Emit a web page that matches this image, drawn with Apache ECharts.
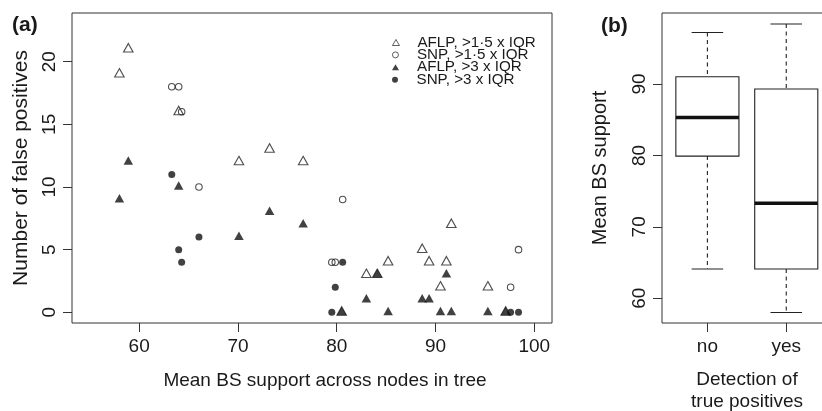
<!DOCTYPE html>
<html><head><meta charset="utf-8">
<script src="https://cdn.jsdelivr.net/npm/echarts@6/dist/echarts.min.js"></script>
<style>html,body{margin:0;padding:0;background:#fff}#c{width:822px;height:411px}</style>
</head><body><div id="c"></div>
<script>
// ---- data ----
const xTicks = [60, 70, 80, 90, 100];
const yTicks = [0, 5, 10, 15, 20];
const seriesNames = ['AFLP, >1\u00b75 x IQR', 'SNP, >1\u00b75 x IQR', 'AFLP, >3 x IQR', 'SNP, >3 x IQR'];
const legendIcons = ['triangle', 'circle', 'triangle', 'circle'];
const aflp15X = [58.9, 58.0, 64.0, 70.1, 73.2, 76.6, 91.6, 88.65, 85.2, 89.35, 91.1, 83.0, 90.5, 95.3, 84.1, 80.5, 97.1];
const aflp15Y = [21, 19, 16, 12, 13, 12, 7, 5, 4, 4, 4, 3, 2, 2, 3, 0, 0];
const aflp3X  = [58.9, 58.0, 64.0, 70.1, 73.2, 76.6, 91.6, 88.65, 85.2, 89.35, 91.1, 83.0, 90.5, 95.3, 84.1, 80.5, 97.1];
const aflp3Y  = [12, 9, 10, 6, 8, 7, 0, 1, 0, 1, 3, 1, 0, 0, 3, 0, 0];
const snp15X  = [63.3, 64.0, 64.3, 66.05, 80.6, 98.4, 79.5, 79.85, 97.6];
const snp15Y  = [18, 18, 16, 10, 9, 5, 4, 4, 2];
const snp3X   = [63.3, 64.0, 64.3, 66.05, 80.6, 98.4, 79.5, 79.85, 97.6];
const snp3Y   = [11, 5, 4, 6, 4, 0, 0, 2, 0];

const boxCategories = ['no', 'yes'];
const boxTicks = [60, 70, 80, 90];
const boxMin    = [64.1, 58.0];
const boxQ1     = [79.9, 64.1];
const boxMedian = [85.3, 73.3];
const boxQ3     = [91.0, 89.3];
const boxMax    = [97.2, 98.4];

// ---- chart ----
const FONT = '"Liberation Sans", Arial, Helvetica, sans-serif';
const INK = '#1a1a1a';
const pairs = (xs, ys) => xs.map((x, i) => [x, ys[i]]);
const chart = echarts.init(document.getElementById('c'), null, {renderer: 'canvas'});

const tickStyle = {show: true, inside: false, length: 9, lineStyle: {color: '#333', width: 1}};
const noLine = {show: false, onZero: false};

const legends = seriesNames.map((name, i) => ({
  orient: 'vertical', left: 392, top: 35 + 12.4 * i, padding: 0,
  itemWidth: 7, itemHeight: 6, selectedMode: false,
  textStyle: {fontFamily: FONT, fontSize: 15.2, color: INK, padding: [0, 0, 0, 13]},
  data: [i < 2 ? {name: name, icon: legendIcons[i], itemStyle: {borderWidth: 0.9}} : {name: name, icon: legendIcons[i]}]
}));

const option = {
  animation: false,
  backgroundColor: '#fff',
  textStyle: {fontFamily: FONT, color: INK},
  title: [
    {text: '(a)', left: 12, top: 15, padding: 0, textStyle: {fontFamily: FONT, fontSize: 21, fontWeight: 'bold', color: INK}},
    {text: '(b)', left: 601, top: 16, padding: 0, textStyle: {fontFamily: FONT, fontSize: 21, fontWeight: 'bold', color: INK}}
  ],
  legend: legends,
  grid: [
    {left: 72, top: 13, width: 480, height: 310, outerBoundsMode: 'none', containLabel: false,
      show: true, borderColor: '#333', borderWidth: 1, backgroundColor: 'transparent'},
    {left: 662, top: 13, width: 170, height: 310, outerBoundsMode: 'none', containLabel: false,
      show: true, borderColor: '#333', borderWidth: 1, backgroundColor: 'transparent'}
  ],
  xAxis: [
    {
      type: 'value', gridIndex: 0, min: 53.2, max: 101.79,
      axisLine: noLine, splitLine: {show: false},
      axisTick: Object.assign({customValues: xTicks}, tickStyle),
      axisLabel: {customValues: xTicks, margin: 14, fontSize: 19, fontFamily: FONT, color: INK},
      name: 'Mean BS support across nodes in tree', nameLocation: 'middle', nameGap: 48,
      nameTextStyle: {fontSize: 19, fontFamily: FONT, color: INK, padding: [0, 0, 0, 26]}
    },
    {
      type: 'value', gridIndex: 1, min: 0.4244, max: 2.58,
      axisLine: noLine, splitLine: {show: false},
      axisTick: Object.assign({customValues: [1, 2]}, tickStyle),
      axisLabel: {customValues: [1, 2], margin: 14, fontSize: 19, fontFamily: FONT, color: INK,
        formatter: v => boxCategories[Math.round(v) - 1] || ''},
      name: 'Detection of\ntrue positives', nameLocation: 'middle', nameGap: 46,
      nameTextStyle: {fontSize: 19, lineHeight: 22, fontFamily: FONT, color: INK}
    }
  ],
  yAxis: [
    {
      type: 'value', gridIndex: 0, min: -0.854, max: 23.887,
      axisLine: noLine, splitLine: {show: false},
      axisTick: Object.assign({customValues: yTicks}, tickStyle),
      axisLabel: {customValues: yTicks, rotate: 90, margin: 13, fontSize: 19, fontFamily: FONT, color: INK},
      name: 'Number of false positives', nameLocation: 'middle', nameRotate: 90, nameGap: 38,
      nameTextStyle: {fontSize: 21, fontFamily: FONT, color: INK}
    },
    {
      type: 'value', gridIndex: 1, min: 56.54, max: 99.93,
      axisLine: noLine, splitLine: {show: false},
      axisTick: Object.assign({customValues: boxTicks}, tickStyle),
      axisLabel: {customValues: boxTicks, rotate: 90, margin: 13, fontSize: 19, fontFamily: FONT, color: INK},
      name: 'Mean BS support', nameLocation: 'middle', nameRotate: 90, nameGap: 52,
      nameTextStyle: {fontSize: 20, fontFamily: FONT, color: INK}
    }
  ],
  series: [
    {name: seriesNames[0], type: 'scatter', xAxisIndex: 0, yAxisIndex: 0, data: pairs(aflp15X, aflp15Y),
      symbol: 'triangle', symbolSize: [9.5, 8.5], symbolOffset: [0, -1.4],
      itemStyle: {color: 'rgba(255,255,255,0)', borderColor: '#222', borderWidth: 1.1}},
    {name: seriesNames[1], type: 'scatter', xAxisIndex: 0, yAxisIndex: 0, data: pairs(snp15X, snp15Y),
      symbol: 'circle', symbolSize: 6.5,
      itemStyle: {color: 'rgba(255,255,255,0)', borderColor: '#222', borderWidth: 1.1}},
    {name: seriesNames[2], type: 'scatter', xAxisIndex: 0, yAxisIndex: 0, data: pairs(aflp3X, aflp3Y),
      symbol: 'triangle', symbolSize: [9.5, 8.5], symbolOffset: [0, -1.4],
      itemStyle: {color: '#111'}},
    {name: seriesNames[3], type: 'scatter', xAxisIndex: 0, yAxisIndex: 0, data: pairs(snp3X, snp3Y),
      symbol: 'circle', symbolSize: 7,
      itemStyle: {color: '#111'}},
    {
      name: 'box', type: 'custom', xAxisIndex: 1, yAxisIndex: 1,
      data: boxCategories.map((c, i) => [i + 1, boxMin[i], boxQ1[i], boxMedian[i], boxQ3[i], boxMax[i]]),
      encode: {x: 0, y: [1, 2, 3, 4, 5]},
      renderItem: function (params, api) {
        const x = api.value(0);
        const unit = api.size([1, 0])[0];
        const half = unit * 0.4, cap = unit * 0.2;
        const pMin = api.coord([x, api.value(1)]);
        const pQ1 = api.coord([x, api.value(2)]);
        const pMed = api.coord([x, api.value(3)]);
        const pQ3 = api.coord([x, api.value(4)]);
        const pMax = api.coord([x, api.value(5)]);
        const cx = pMed[0];
        const solid = {stroke: '#222', lineWidth: 1.1, fill: null};
        const dashed = {stroke: '#222', lineWidth: 1.1, lineDash: [4, 3.5], fill: null};
        return {
          type: 'group',
          children: [
            {type: 'line', shape: {x1: cx, y1: pMax[1], x2: cx, y2: pQ3[1]}, style: dashed},
            {type: 'line', shape: {x1: cx, y1: pQ1[1], x2: cx, y2: pMin[1]}, style: dashed},
            {type: 'line', shape: {x1: cx - cap, y1: pMax[1], x2: cx + cap, y2: pMax[1]}, style: solid},
            {type: 'line', shape: {x1: cx - cap, y1: pMin[1], x2: cx + cap, y2: pMin[1]}, style: solid},
            {type: 'rect', shape: {x: cx - half, y: pQ3[1], width: 2 * half, height: pQ1[1] - pQ3[1]},
              style: {stroke: '#222', lineWidth: 1.1, fill: '#fff'}},
            {type: 'line', shape: {x1: cx - half, y1: pMed[1], x2: cx + half, y2: pMed[1]},
              style: {stroke: '#111', lineWidth: 3.4}}
          ]
        };
      }
    }
  ]
};
chart.setOption(option);
</script>
</body></html>
